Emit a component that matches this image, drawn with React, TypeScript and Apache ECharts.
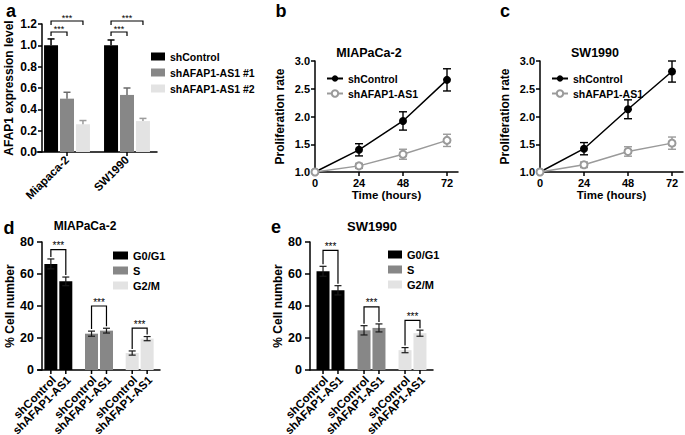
import React, { useEffect, useRef } from "react";
import * as echarts from "echarts";

// ---------------- data ----------------
// Panel a
const aCategories = ["Miapaca-2", "SW1990"];
const aSeriesNames = ["shControl", "shAFAP1-AS1 #1", "shAFAP1-AS1 #2"];
const aControlMean = [1.0, 1.0];
const aControlSD = [0.06, 0.05];
const aKd1Mean = [0.5, 0.535];
const aKd1SD = [0.06, 0.065];
const aKd2Mean = [0.26, 0.29];
const aKd2SD = [0.035, 0.025];
// [category index, from bar, to bar, bracket level]
const aBrackets = [
  [0, 0, 1, 1.125],
  [0, 0, 2, 1.228],
  [1, 0, 1, 1.125],
  [1, 0, 2, 1.228],
];
const sigLabel = "***";

// Panels b and c
const timeHours = [0, 24, 48, 72];
const lineNames = ["shControl", "shAFAP1-AS1"];
const bControl = [1.0, 1.4, 1.92, 2.66];
const bControlSD = [0, 0.11, 0.165, 0.2];
const bKnock = [1.0, 1.11, 1.32, 1.57];
const bKnockSD = [0, 0.045, 0.09, 0.11];
const cControl = [1.0, 1.42, 2.13, 2.81];
const cControlSD = [0, 0.11, 0.17, 0.19];
const cKnock = [1.0, 1.13, 1.37, 1.52];
const cKnockSD = [0, 0.05, 0.085, 0.11];

// Panels d and e
const phases = ["G0/G1", "S", "G2/M"];
const groupLabels = ["shControl", "shAFAP1-AS1"];
const dControl = [66.3, 22.7, 10.6];
const dControlSD = [3.1, 1.6, 1.3];
const dKnock = [55.4, 24.6, 19.6];
const dKnockSD = [2.7, 1.5, 1.3];
const dBracketLevels = [75.2, 40, 26.2];
const eControl = [61.7, 24.8, 12.4];
const eControlSD = [3.1, 2.9, 1.6];
const eKnock = [49.8, 26.3, 23.0];
const eKnockSD = [2.9, 2.5, 1.9];
const eBracketLevels = [74.8, 39.4, 31];

// ---------------- styles ----------------
const FONT = "'Liberation Sans', Arial, Helvetica, sans-serif";
const aColors = ["#000000", "#878787", "#e3e3e3"];
const aErrColors = ["#000000", "#6a6a6a", "#9c9c9c"];
const phaseColors = ["#000000", "#878787", "#e3e3e3"];
const lineColors = ["#000000", "#9a9a9a"];

const A_BAR_W = 14;
const A_GAP = 0.14;
const A_STEP = A_BAR_W * (1 + A_GAP);
const D_BAR_W = 13;
const D_GAP = 0.15;
const D_STEP = D_BAR_W * (1 + D_GAP);

const axisLine = { show: true, lineStyle: { color: "#000", width: 1.5 } };
const labelFont = { fontFamily: FONT, fontWeight: "bold", fontSize: 11, color: "#000" };
const nameFont = { fontFamily: FONT, fontWeight: "bold", fontSize: 12, color: "#000" };
const tickStyle = (len: number) => ({ show: true, length: len, lineStyle: { color: "#000", width: 1.5 } });
const blackItem = { color: "#000" };

function starText(x: number, y: number, size: number) {
  return {
    type: "text",
    x,
    y,
    style: {
      text: sigLabel,
      font: `${size}px ${FONT}`,
      fill: "#000",
      textFill: "#000",
      align: "center",
      verticalAlign: "bottom",
      textAlign: "center",
      textVerticalAlign: "bottom",
    },
  };
}

function aErrorItem(params: any, api: any) {
  const c = api.value(0), s = api.value(1), m = api.value(2), sd = api.value(3);
  const p0 = api.coord([c, m]);
  const p1 = api.coord([c, m + sd]);
  const x = p0[0] + (s - 1) * A_STEP;
  const stroke = aErrColors[s];
  return {
    type: "group",
    children: [
      { type: "line", shape: { x1: x, y1: p0[1], x2: x, y2: p1[1] }, style: { stroke, lineWidth: 1.5 } },
      { type: "line", shape: { x1: x - 3.5, y1: p1[1], x2: x + 3.5, y2: p1[1] }, style: { stroke, lineWidth: 1.5 } },
    ],
  };
}

function aBracketItem(params: any, api: any) {
  const c = api.value(0), from = api.value(1), to = api.value(2), level = api.value(3);
  const p = api.coord([c, level]);
  const x1 = p[0] + (from - 1) * A_STEP;
  const x2 = p[0] + (to - 1) * A_STEP;
  const y = p[1];
  return {
    type: "group",
    children: [
      { type: "polyline", shape: { points: [[x1, y + 4], [x1, y], [x2, y], [x2, y + 4]] }, style: { stroke: "#000", lineWidth: 1.2, fill: null } },
      starText((x1 + x2) / 2, y + 1, 9),
    ],
  };
}

function lineErrorItem(colors: string[]) {
  return (params: any, api: any) => {
    const t = api.value(0), m = api.value(1), sd = api.value(2), s = api.value(3);
    if (!sd) return { type: "group", children: [] };
    const top = api.coord([t, m + sd]);
    const bot = api.coord([t, m - sd]);
    const x = top[0];
    const stroke = colors[s];
    return {
      type: "group",
      children: [
        { type: "line", shape: { x1: x, y1: top[1], x2: x, y2: bot[1] }, style: { stroke, lineWidth: 1.4 } },
        { type: "line", shape: { x1: x - 4, y1: top[1], x2: x + 4, y2: top[1] }, style: { stroke, lineWidth: 1.4 } },
        { type: "line", shape: { x1: x - 4, y1: bot[1], x2: x + 4, y2: bot[1] }, style: { stroke, lineWidth: 1.4 } },
      ],
    };
  };
}

function dErrorItem(params: any, api: any) {
  const c = api.value(0), s = api.value(1), m = api.value(2), sd = api.value(3);
  const p0 = api.coord([c, m]);
  const top = api.coord([c, m + sd]);
  const bot = api.coord([c, m - sd]);
  const x = p0[0] + (s - 0.5) * D_STEP;
  const stroke = "#1a1a1a";
  return {
    type: "group",
    children: [
      { type: "line", shape: { x1: x, y1: top[1], x2: x, y2: bot[1] }, style: { stroke, lineWidth: 1.2 } },
      { type: "line", shape: { x1: x - 3.5, y1: top[1], x2: x + 3.5, y2: top[1] }, style: { stroke, lineWidth: 1.2 } },
      { type: "line", shape: { x1: x - 3.5, y1: bot[1], x2: x + 3.5, y2: bot[1] }, style: { stroke, lineWidth: 1.2 } },
    ],
  };
}

function dBracketItem(params: any, api: any) {
  const c = api.value(0), level = api.value(1), lTop = api.value(2), rTop = api.value(3);
  const p = api.coord([c, level]);
  const ly = api.coord([c, lTop])[1] - 2;
  const ry = api.coord([c, rTop])[1] - 2;
  const x1 = p[0] - D_STEP / 2;
  const x2 = p[0] + D_STEP / 2;
  const y = p[1];
  return {
    type: "group",
    children: [
      { type: "polyline", shape: { points: [[x1, ly], [x1, y], [x2, y], [x2, ry]] }, style: { stroke: "#000", lineWidth: 1.2, fill: null } },
      starText((x1 + x2) / 2, y + 1, 10),
    ],
  };
}

function dLabelItem(params: any, api: any) {
  const c = api.value(0), s = api.value(1);
  const p = api.coord([c, 0]);
  const x = p[0] + (s - 0.5) * D_STEP;
  const y = p[1];
  return {
    type: "group",
    children: [
      { type: "line", shape: { x1: x, y1: y, x2: x, y2: y + 4 }, style: { stroke: "#000", lineWidth: 1.5 } },
      {
        type: "text",
        x: x + 3,
        y: y + 8,
        rotation: Math.PI / 4,
        style: {
          text: groupLabels[s],
          font: `bold 11.5px ${FONT}`,
          fill: "#000",
          textFill: "#000",
          align: "right",
          verticalAlign: "middle",
          textAlign: "right",
          textVerticalAlign: "middle",
        },
      },
    ],
  };
}

function barPanelSeries(prefix: string, axisIdx: number, control: number[], controlSD: number[], knock: number[], knockSD: number[], levels: number[]) {
  const means = [control, knock];
  const sds = [controlSD, knockSD];
  const bars = means.map((arr, s) => ({
    type: "bar",
    name: prefix + groupLabels[s],
    xAxisIndex: axisIdx,
    yAxisIndex: axisIdx,
    barWidth: D_BAR_W,
    barGap: D_GAP * 100 + "%",
    data: arr.map((v, i) => ({ value: v, itemStyle: { color: phaseColors[i] } })),
  }));
  const errData: number[][] = [];
  means.forEach((arr, s) => arr.forEach((v, i) => errData.push([i, s, v, sds[s][i]])));
  const bracketData = levels.map((lv, i) => [i, lv, control[i] + controlSD[i], knock[i] + knockSD[i]]);
  const labelData: number[][] = [];
  phases.forEach((_, i) => groupLabels.forEach((__, s) => labelData.push([i, s])));
  const legendDummies = phases.map((ph, i) => ({
    type: "line",
    name: prefix + ph,
    xAxisIndex: axisIdx,
    yAxisIndex: axisIdx,
    data: [],
    itemStyle: { color: phaseColors[i] },
    lineStyle: { color: phaseColors[i] },
  }));
  return [
    ...bars,
    { type: "custom", xAxisIndex: axisIdx, yAxisIndex: axisIdx, data: errData, renderItem: dErrorItem, encode: { x: 0, y: 2 }, clip: false, z: 3, itemStyle: blackItem },
    { type: "custom", xAxisIndex: axisIdx, yAxisIndex: axisIdx, data: bracketData, renderItem: dBracketItem, encode: { x: 0, y: 1 }, clip: false, z: 3, itemStyle: blackItem },
    { type: "custom", xAxisIndex: axisIdx, yAxisIndex: axisIdx, data: labelData, renderItem: dLabelItem, encode: { x: 0, y: 1 }, clip: false, z: 3, itemStyle: blackItem },
    ...legendDummies,
  ];
}

function linePanelSeries(prefix: string, axisIdx: number, control: number[], controlSD: number[], knock: number[], knockSD: number[]) {
  const errData: number[][] = [];
  [control, knock].forEach((arr, s) => arr.forEach((v, i) => errData.push([timeHours[i], v, [controlSD, knockSD][s][i], s])));
  return [
    { type: "custom", xAxisIndex: axisIdx, yAxisIndex: axisIdx, data: errData, renderItem: lineErrorItem(lineColors), encode: { x: 0, y: 1 }, clip: false, z: 2, itemStyle: blackItem },
    {
      type: "line",
      name: prefix + lineNames[0],
      xAxisIndex: axisIdx,
      yAxisIndex: axisIdx,
      data: timeHours.map((t, i) => [t, control[i]]),
      symbol: "circle",
      symbolSize: 8,
      lineStyle: { color: lineColors[0], width: 1.5 },
      itemStyle: { color: lineColors[0] },
      z: 4,
    },
    {
      type: "line",
      name: prefix + lineNames[1],
      xAxisIndex: axisIdx,
      yAxisIndex: axisIdx,
      data: timeHours.map((t, i) => [t, knock[i]]),
      symbol: "emptyCircle",
      symbolSize: 7,
      lineStyle: { color: lineColors[1], width: 1.4 },
      itemStyle: { color: lineColors[1], borderColor: lineColors[1], borderWidth: 1.1 },
      z: 4,
    },
  ];
}

function timeXAxis(gridIndex: number) {
  return {
    type: "value",
    gridIndex,
    min: 0,
    max: 78,
    interval: 24,
    axisLine,
    axisTick: { ...tickStyle(4), customValues: timeHours },
    axisLabel: { ...labelFont, margin: 5, customValues: timeHours, formatter: (v: number) => (v % 24 === 0 ? String(v) : "") },
    splitLine: { show: false },
    name: "Time (hours)",
    nameLocation: "middle",
    nameGap: 17,
    nameTextStyle: { ...nameFont, fontSize: 11.5 },
  };
}

function rateYAxis(gridIndex: number) {
  return {
    type: "value",
    gridIndex,
    min: 1,
    max: 3,
    interval: 0.5,
    axisLine,
    axisTick: tickStyle(4),
    axisLabel: { ...labelFont, margin: 5, formatter: (v: number) => v.toFixed(1) },
    splitLine: { show: false },
    name: "Proliferation rate",
    nameLocation: "middle",
    nameGap: 29,
    nameTextStyle: nameFont,
  };
}

function catXAxis(gridIndex: number) {
  return {
    type: "category",
    gridIndex,
    data: phases,
    axisLine,
    axisTick: { show: false },
    axisLabel: { show: false },
  };
}

function cellYAxis(gridIndex: number, offset: number, gap: number) {
  return {
    type: "value",
    gridIndex,
    min: 0,
    max: 80,
    interval: 20,
    offset,
    axisLine,
    axisTick: tickStyle(5),
    axisLabel: { ...labelFont, fontSize: 12.5, margin: 8 },
    splitLine: { show: false },
    name: "% Cell number",
    nameLocation: "middle",
    nameGap: gap,
    nameTextStyle: nameFont,
  };
}

function panelText(text: string, x: number, y: number, size: number) {
  return {
    type: "text",
    x,
    y,
    style: { text, font: `bold ${size}px ${FONT}`, fill: "#000", textAlign: "center", textVerticalAlign: "middle", align: "center", verticalAlign: "middle" },
  };
}

function buildOption() {
  const aMeans = [aControlMean, aKd1Mean, aKd2Mean];
  const aSDs = [aControlSD, aKd1SD, aKd2SD];
  const aErrData: number[][] = [];
  aMeans.forEach((arr, s) => arr.forEach((v, i) => aErrData.push([i, s, v, aSDs[s][i]])));
  const stripPrefix = (n: string) => n.slice(2);

  return {
    animation: false,
    backgroundColor: "#fff",
    grid: [
      { left: 37, top: 24, width: 120, height: 128 },
      { left: 315, top: 61, width: 143, height: 111 },
      { left: 540, top: 61, width: 143, height: 111 },
      { left: 38, top: 242, width: 122, height: 128 },
      { left: 310, top: 242, width: 123, height: 128 },
    ],
    xAxis: [
      {
        type: "category",
        gridIndex: 0,
        data: aCategories,
        axisLine,
        axisTick: { ...tickStyle(4), alignWithLabel: true, interval: 0 },
        axisLabel: { ...labelFont, fontSize: 11.5, rotate: 45, margin: 6, interval: 0 },
      },
      timeXAxis(1),
      timeXAxis(2),
      catXAxis(3),
      catXAxis(4),
    ],
    yAxis: [
      {
        type: "value",
        gridIndex: 0,
        min: 0,
        max: 1.2,
        interval: 0.2,
        offset: -5,
        axisLine,
        axisTick: tickStyle(4),
        axisLabel: { ...labelFont, fontSize: 12, margin: 5, formatter: (v: number) => v.toFixed(1) },
        splitLine: { show: false },
        name: "AFAP1 expression level",
        nameLocation: "middle",
        nameGap: 27,
        nameTextStyle: nameFont,
      },
      rateYAxis(1),
      rateYAxis(2),
      cellYAxis(3, -4, 21),
      cellYAxis(4, 0, 24),
    ],
    legend: [
      {
        data: aSeriesNames.map((n) => "a:" + n),
        formatter: stripPrefix,
        left: 146,
        top: 46,
        orient: "vertical",
        icon: "rect",
        itemWidth: 14,
        itemHeight: 8,
        itemGap: 5,
        selectedMode: false,
        textStyle: { ...labelFont, fontSize: 10.5 },
      },
      {
        data: lineNames.map((n) => "b:" + n),
        formatter: stripPrefix,
        left: 321,
        top: 68,
        orient: "vertical",
        itemWidth: 16,
        itemHeight: 8,
        itemGap: 4,
        selectedMode: false,
        textStyle: { ...labelFont, fontSize: 10.5 },
      },
      {
        data: lineNames.map((n) => "c:" + n),
        formatter: stripPrefix,
        left: 546,
        top: 68,
        orient: "vertical",
        itemWidth: 16,
        itemHeight: 8,
        itemGap: 4,
        selectedMode: false,
        textStyle: { ...labelFont, fontSize: 10.5 },
      },
      {
        data: phases.map((n) => "d:" + n),
        formatter: stripPrefix,
        left: 108,
        top: 245,
        orient: "vertical",
        icon: "rect",
        itemWidth: 15,
        itemHeight: 8,
        itemGap: 4,
        selectedMode: false,
        textStyle: { ...labelFont, fontSize: 11 },
      },
      {
        data: phases.map((n) => "e:" + n),
        formatter: stripPrefix,
        left: 383,
        top: 244,
        orient: "vertical",
        icon: "rect",
        itemWidth: 14,
        itemHeight: 8,
        itemGap: 4,
        selectedMode: false,
        textStyle: { ...labelFont, fontSize: 11 },
      },
    ],
    graphic: [
      panelText("a", 11, 10.5, 18),
      panelText("b", 281, 10.5, 18),
      panelText("c", 505, 10.5, 18),
      panelText("d", 9, 228, 18),
      panelText("e", 276, 227, 18),
      panelText("MIAPaCa-2", 369, 53, 12.5),
      panelText("SW1990", 595, 53, 12.5),
      panelText("MIAPaCa-2", 85, 226, 12),
      panelText("SW1990", 372, 226, 13),
    ],
    series: [
      ...aMeans.map((arr, s) => ({
        type: "bar",
        name: "a:" + aSeriesNames[s],
        xAxisIndex: 0,
        yAxisIndex: 0,
        barWidth: A_BAR_W,
        barGap: A_GAP * 100 + "%",
        data: arr,
        itemStyle: { color: aColors[s] },
      })),
      { type: "custom", xAxisIndex: 0, yAxisIndex: 0, data: aErrData, renderItem: aErrorItem, encode: { x: 0, y: 2 }, clip: false, z: 3, itemStyle: blackItem },
      { type: "custom", xAxisIndex: 0, yAxisIndex: 0, data: aBrackets, renderItem: aBracketItem, encode: { x: 0, y: 3 }, clip: false, z: 3, itemStyle: blackItem },
      ...linePanelSeries("b:", 1, bControl, bControlSD, bKnock, bKnockSD),
      ...linePanelSeries("c:", 2, cControl, cControlSD, cKnock, cKnockSD),
      ...barPanelSeries("d:", 3, dControl, dControlSD, dKnock, dKnockSD, dBracketLevels),
      ...barPanelSeries("e:", 4, eControl, eControlSD, eKnock, eKnockSD, eBracketLevels),
    ],
  };
}

export default function App() {
  const ref = useRef<HTMLDivElement>(null);
  useEffect(() => {
    const chart = echarts.init(ref.current as HTMLDivElement, null, { renderer: "svg" });
    chart.setOption(buildOption() as any);
    return () => chart.dispose();
  }, []);
  return (
    <div
      ref={ref}
      style={{ position: "absolute", left: 0, top: 0, width: 685, height: 435, background: "#fff" }}
    />
  );
}
